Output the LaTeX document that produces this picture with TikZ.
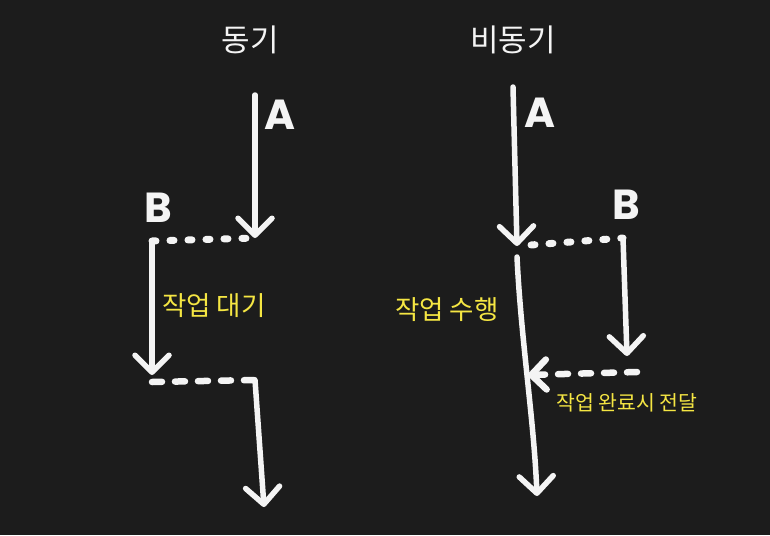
\documentclass[tikz,border=0pt]{standalone}
\usepackage{fontspec}
\usepackage{xcolor}
\usetikzlibrary{arrows.meta}
\newfontfamily\krfont{Noto Sans CJK KR}
\newfontfamily\handfont{Poppins}
\definecolor{canvas}{HTML}{1C1C1C}
\definecolor{chalk}{HTML}{F4F4F4}
\definecolor{marker}{HTML}{F5E643}

\tikzset{
  title/.style={text=chalk, font=\krfont\fontsize{31}{31}\selectfont},
  letter/.style={text=chalk, font=\handfont\bfseries\fontsize{42}{42}\selectfont},
  note/.style={text=marker, font=\krfont\fontsize{26.5}{26.5}\selectfont},
  smallnote/.style={note, font=\krfont\fontsize{20.5}{20.5}\selectfont},
  flow/.style={draw=chalk, line width=5.5pt, line cap=round, line join=round,
    -{Straight Barb[length=17pt,width=34pt,round]}},
  dots/.style={draw=chalk, line width=7pt, line cap=round, dash pattern=on 4pt off 14pt},
  dashes/.style={draw=chalk, line width=6.5pt, line cap=round, dash pattern=on 10pt off 13pt}
}

\begin{document}
\begin{tikzpicture}[x=1pt, y=-1pt]
  \fill[canvas] (0,0) rectangle (770,535);
  \useasboundingbox (0,0) rectangle (770,535);

  % sync
  \node[title] (syncTitle) at (250,40) {동기};
  \node[letter] (syncA) at (280,115) {A};
  \node[letter] (syncB) at (158,208) {B};
  \node[note] (syncWait) at (214,306) {작업 대기};

  \coordinate (sA1) at (255,95);
  \coordinate (sA2) at (255,238);
  \coordinate (sB1) at (152,241);
  \coordinate (sB2) at (152,375);
  \coordinate (sR1) at (152,382);
  \coordinate (sR2) at (255,380);
  \coordinate (sR3) at (264,507);

  \draw[flow] (sA1) -- (sA2);
  \draw[dots] (sB1) -- (sA2);
  \draw[flow] (sB1) -- (sB2);
  \draw[dashes] (sR1) -- (sR2);
  \draw[flow] (sR2) -- (sR3);

  % async
  \node[title] (asyncTitle) at (513,40) {비동기};
  \node[letter] (asyncA) at (540,113) {A};
  \node[letter] (asyncB) at (626,205) {B};
  \node[note] (asyncRun) at (447,310) {작업 수행};
  \node[smallnote] (asyncDone) at (627,403) {작업 완료시 전달};

  \coordinate (aA1) at (513,87);
  \coordinate (aA2) at (517,246);
  \coordinate (aB1) at (623,238);
  \coordinate (aB2) at (627,356);
  \coordinate (aM1) at (517,257);
  \coordinate (aM2) at (537,496);
  \coordinate (aC1) at (637,372);
  \coordinate (aC2) at (528,375);

  \draw[flow] (aA1) -- (aA2);
  \draw[dots] (aA2) ++(14,-1) -- (aB1);
  \draw[flow] (aB1) -- (aB2);
  \draw[flow] (aM1) .. controls (521,340) and (534,420) .. (aM2);
  \draw[dashes, -{Straight Barb[length=15pt,width=30pt,round]}] (aC1) -- (aC2);
\end{tikzpicture}
\end{document}
